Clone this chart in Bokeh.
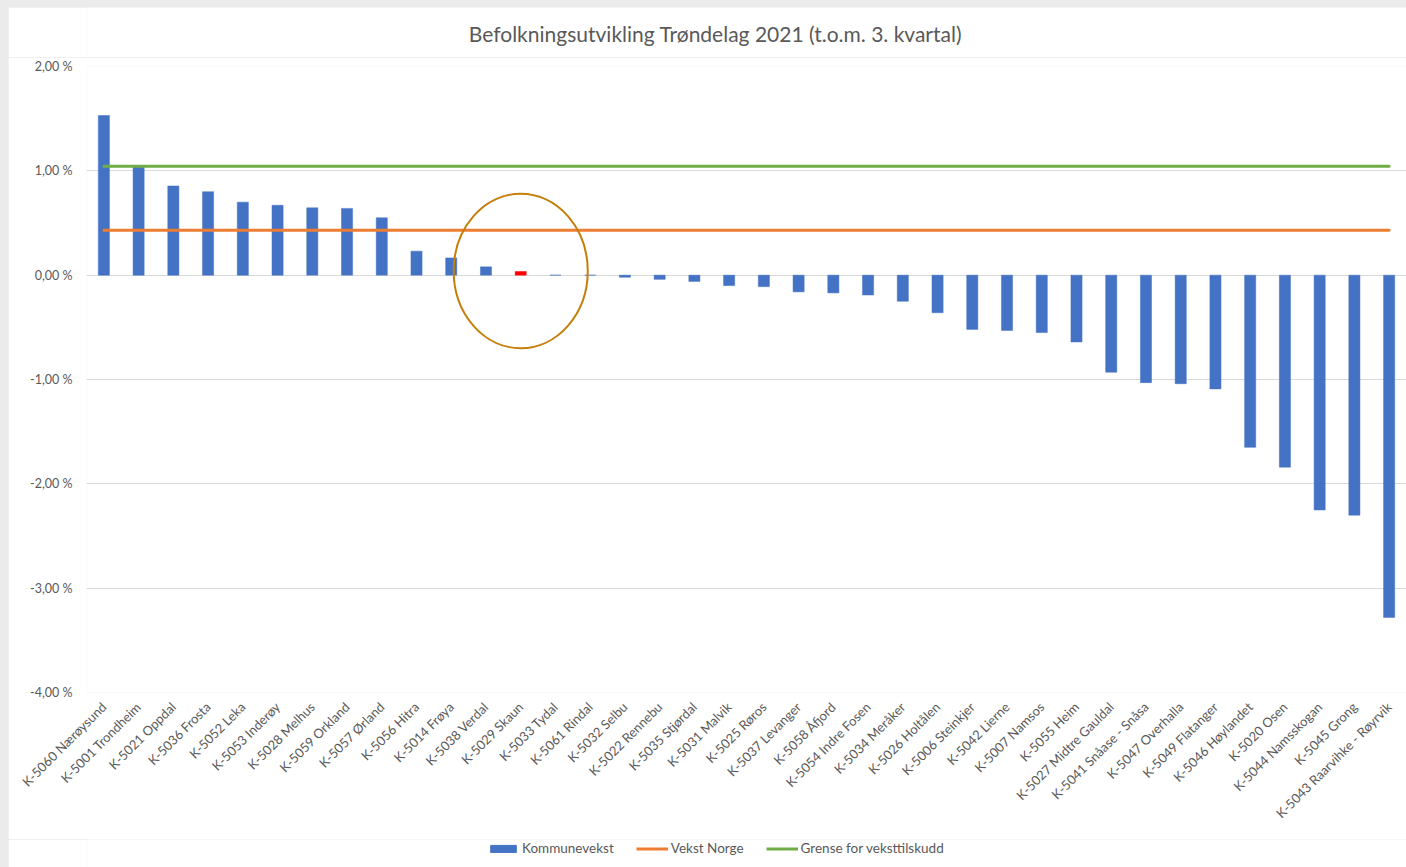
import math
from bokeh.plotting import figure
from bokeh.layouts import column
from bokeh.models import (ColumnDataSource, FactorRange, Range1d, FixedTicker,
                          Legend, LegendItem, Label)
from bokeh.embed import file_html
from bokeh.resources import INLINE

tittel = "Befolkningsutvikling Trøndelag 2021 (t.o.m. 3. kvartal)"
kommuner = [
    "K-5060 Nærøysund", "K-5001 Trondheim", "K-5021 Oppdal", "K-5036 Frosta",
    "K-5052 Leka", "K-5053 Inderøy", "K-5028 Melhus", "K-5059 Orkland",
    "K-5057 Ørland", "K-5056 Hitra", "K-5014 Frøya", "K-5038 Verdal",
    "K-5029 Skaun", "K-5033 Tydal", "K-5061 Rindal", "K-5032 Selbu",
    "K-5022 Rennebu", "K-5035 Stjørdal", "K-5031 Malvik", "K-5025 Røros",
    "K-5037 Levanger", "K-5058 Åfjord", "K-5054 Indre Fosen", "K-5034 Meråker",
    "K-5026 Holtålen", "K-5006 Steinkjer", "K-5042 Lierne", "K-5007 Namsos",
    "K-5055 Heim", "K-5027 Midtre Gauldal", "K-5041 Snåase - Snåsa",
    "K-5047 Overhalla", "K-5049 Flatanger", "K-5046 Høylandet", "K-5020 Osen",
    "K-5044 Namsskogan", "K-5045 Grong", "K-5043 Raarvihke - Røyrvik",
]
kommunevekst = [
    1.53, 1.04, 0.855, 0.80, 0.70, 0.67, 0.645, 0.64,
    0.55, 0.23, 0.165, 0.08, 0.035, 0.0, 0.0, -0.02,
    -0.04, -0.06, -0.10, -0.11, -0.16, -0.17, -0.19, -0.25,
    -0.36, -0.52, -0.53, -0.55, -0.64, -0.93, -1.03,
    -1.04, -1.09, -1.65, -1.84, -2.25, -2.30, -3.28,
]
vekst_norge = 0.43
grense_veksttilskudd = 1.045
markert_kommune = "K-5029 Skaun"
y_ticks = [-4, -3, -2, -1, 0, 1, 2]
serie_navn = ["Kommunevekst", "Vekst Norge", "Grense for veksttilskudd"]

BLUE = "#4472C4"
RED = "#FF0000"
ORANGE = "#ED7D31"
GREEN = "#70AD47"
TXT = "#595959"
FONT = "Lato"


def strip(height):
    f = figure(width=1398, height=height, output_backend="svg",
               toolbar_location=None, x_range=Range1d(0, 1320),
               y_range=Range1d(0, height),
               x_axis_location=None, y_axis_location=None,
               min_border_left=0, min_border_right=0, min_border_top=0,
               min_border_bottom=0)
    f.outline_line_color = None
    f.grid.visible = False
    f.background_fill_color = "white"
    f.border_fill_color = "white"
    return f


# header with title
hd = strip(50)
hd.add_layout(Label(x=629, y=24, text=tittel, text_align="center",
                    text_baseline="middle", text_font=FONT,
                    text_font_size="21px", text_color=TXT))

colors = [RED if k == markert_kommune else BLUE for k in kommuner]
src = ColumnDataSource(dict(k=kommuner, v=kommunevekst, c=colors,
                            norge=[vekst_norge] * len(kommuner),
                            grense=[grense_veksttilskudd] * len(kommuner)))

p = figure(x_range=FactorRange(*kommuner), y_range=Range1d(-4, 2),
           width=1398, height=782, output_backend="svg", toolbar_location=None,
           min_border_left=78, min_border_right=0, min_border_top=9,
           min_border_bottom=147)
p.outline_line_color = None
p.background_fill_color = "white"
p.border_fill_color = "white"

p.vbar(x="k", top="v", width=0.32, fill_color="c", line_color="c",
       line_width=0.5, source=src)
p.line(x="k", y="norge", line_color=ORANGE, line_width=3,
       line_cap="round", source=src)
p.line(x="k", y="grense", line_color=GREEN, line_width=3,
       line_cap="round", source=src)

# highlight ellipse around marked municipality
p.ellipse(x=[markert_kommune], y=[0.04], width=3.86, height=1.48,
          fill_alpha=0, line_color="#C47F0A", line_width=2)

p.yaxis.ticker = FixedTicker(ticks=y_ticks)
p.yaxis.major_label_overrides = {t: f"{t:.2f}".replace(".", ",") + " %" for t in y_ticks}
p.yaxis.axis_line_color = None
p.yaxis.major_tick_line_color = None
p.yaxis.minor_tick_line_color = None
p.yaxis.major_label_text_font = FONT
p.yaxis.major_label_text_font_size = "12.5px"
p.yaxis.major_label_text_color = TXT
p.yaxis.major_label_standoff = 8

p.xaxis.axis_line_color = None
p.xaxis.major_tick_line_color = None
p.xaxis.major_label_orientation = math.pi / 4
p.xaxis.major_label_text_font = FONT
p.xaxis.major_label_text_font_size = "13px"
p.xaxis.major_label_text_color = TXT
p.xaxis.major_label_standoff = 6

p.xgrid.grid_line_color = None
p.ygrid.grid_line_color = "#D9D9D9"
p.ygrid.grid_line_width = 1

# legend strip below the chart
lg = strip(28)
r_bar = lg.vbar(x=[-10], top=[-10], width=0.1, fill_color=BLUE, line_color=BLUE)
r_norge = lg.line(x=[-10, -9], y=[-10, -10], line_color=ORANGE, line_width=3)
r_grense = lg.line(x=[-10, -9], y=[-10, -10], line_color=GREEN, line_width=3)

legend = Legend(items=[
    LegendItem(label=serie_navn[0], renderers=[r_bar]),
    LegendItem(label=serie_navn[1], renderers=[r_norge]),
    LegendItem(label=serie_navn[2], renderers=[r_grense]),
], orientation="horizontal", location=(401, 11))
legend.label_text_font = FONT
legend.label_text_font_size = "13.5px"
legend.label_text_color = TXT
legend.glyph_width = 32
legend.glyph_height = 9
legend.label_standoff = 3
legend.spacing = 22
legend.border_line_color = None
legend.background_fill_alpha = 0
legend.margin = 0
legend.padding = 0
lg.add_layout(legend)

layout = column(hd, p, lg, spacing=0)

html = file_html(layout, INLINE)
html = html.replace(
    "<head>",
    "<head><style>html body{background:#EBEBEB !important;"
    "padding:7px 0 0 8px !important;}</style>", 1)
open("out.html", "w").write(html)
